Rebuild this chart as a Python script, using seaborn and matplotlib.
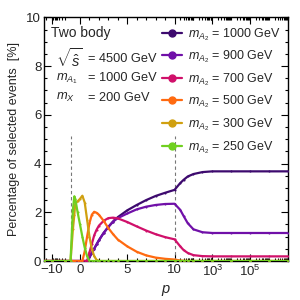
import numpy as np
import pandas as pd
import matplotlib
matplotlib.use("Agg")
import matplotlib.pyplot as plt
from matplotlib.lines import Line2D
from matplotlib.ticker import FixedLocator
import seaborn as sns

# ---------------- data ----------------
p_grid = [-25, -10, -2, -1, -0.75, -0.6, -0.5, -0.25, 0, 0.25, 0.5, 0.75, 1, 1.25,
          1.5, 1.75, 2, 2.5, 3, 3.5, 4, 5, 6, 7, 8, 9, 10, 20, 30, 50, 100, 300,
          1e3, 1e4, 1e5, 1e6, 1e7]

m1000 = [0, 0, 0, 0, 0, 0, 0, 0, 0, 0, 0, 0, 0.15, 0.33, 0.5, 0.68, 0.85, 1.15,
         1.4, 1.62, 1.8, 2.08, 2.3, 2.5, 2.67, 2.8, 2.92, 3.2, 3.33, 3.47, 3.57,
         3.65, 3.68, 3.68, 3.68, 3.68, 3.68]
m900 = [0, 0, 0, 0, 0, 0, 0, 0, 0, 0, 0, 0, 0.15, 0.33, 0.5, 0.68, 0.85, 1.15,
        1.4, 1.62, 1.76, 1.95, 2.12, 2.23, 2.3, 2.34, 2.35, 2.1, 1.85, 1.55, 1.3,
        1.18, 1.15, 1.15, 1.15, 1.15, 1.15]
m700 = [0, 0, 0, 0, 0, 0, 0, 0, 0, 0, 0, 0, 0.35, 0.7, 1.05, 1.28, 1.45, 1.65,
        1.76, 1.78, 1.75, 1.6, 1.42, 1.25, 1.1, 0.98, 0.89, 0.6, 0.45, 0.33, 0.24,
        0.2, 0.19, 0.19, 0.19, 0.19, 0.19]
m500 = [0, 0, 0, 0, 0, 0, 0, 0, 0, 0, 0.4, 1.0, 1.55, 1.9, 2.02, 1.98, 1.9, 1.65,
        1.35, 1.1, 0.88, 0.6, 0.38, 0.23, 0.14, 0.09, 0.06, 0.02, 0.01, 0, 0,
        0, 0, 0, 0, 0, 0]
m300 = [0, 0, 0, 0, 1.3, 1.9, 2.35, 2.45, 2.55, 2.68, 2.4, 1.7, 1.0, 0.5, 0.2,
        0.05, 0, 0, 0, 0, 0, 0, 0, 0, 0, 0, 0, 0, 0, 0, 0, 0, 0, 0, 0, 0, 0]
m250 = [0, 0, 0, 0, 2.1, 2.65, 2.55, 2.0, 1.5, 1.0, 0.55, 0.2, 0, 0, 0, 0, 0,
        0, 0, 0, 0, 0, 0, 0, 0, 0, 0, 0, 0, 0, 0, 0, 0, 0, 0, 0, 0]

masses = ["1000", "900", "700", "500", "300", "250"]
series = [m1000, m900, m700, m500, m300, m250]
colors = ["#3d0a6e", "#7010a8", "#d0106a", "#ff6a10", "#d0a010", "#70d020"]

breaks = [-1, 10]
x_ticks = [-10, 0, 5, 10, 1e3, 1e5]
x_ticklabels = ["\u221210", "0", "5", "10", r"10$^3$", r"10$^5$"]
y_ticks = [0, 2, 4, 6, 8, 10]

info_labels = ["$\\sqrt{\\hat{s}}$", "$m_{A_1}$", "$m_{X}$"]
info_values = ["= 4500 GeV", "= 1000 GeV", "= 200 GeV"]

df = pd.DataFrame({
    "p": np.tile(p_grid, len(masses)),
    "val": np.concatenate(series),
    "mass": np.repeat(masses, len(p_grid)),
})

# ---------------- piecewise scale ----------------
K = 2.0  # linear units per decade


def fwd(p):
    p = np.asarray(p, dtype=float)
    out = p.copy()
    neg = p < -1
    pos = p > 10
    with np.errstate(divide="ignore", invalid="ignore"):
        out[neg] = -1 - K * np.log10(-p[neg])
        out[pos] = 10 + K * np.log10(p[pos] / 10)
    return out


def inv(x):
    x = np.asarray(x, dtype=float)
    out = x.copy()
    neg = x < -1
    pos = x > 10
    out[neg] = -10 ** ((-1 - x[neg]) / K)
    out[pos] = 10 * 10 ** ((x[pos] - 10) / K)
    return out


# ---------------- plot ----------------
sns.set_style("ticks")
plt.rcParams["font.family"] = ["Liberation Sans", "DejaVu Sans"]
plt.rcParams["mathtext.fontset"] = "custom"
plt.rcParams["mathtext.rm"] = "Liberation Sans"
plt.rcParams["mathtext.it"] = "Liberation Sans:italic"
plt.rcParams["mathtext.bf"] = "Liberation Sans:bold"

fig = plt.figure(figsize=(3, 3), dpi=100)
ax = fig.add_axes([0.147, 0.13, 0.813, 0.812])
ax.set_xscale("function", functions=(fwd, inv))

for b in breaks:
    ax.plot([b, b], [0, 5.15], color="#777777", lw=0.8, ls=(0, (3, 2.5)), zorder=1)

sns.lineplot(data=df, x="p", y="val", hue="mass", hue_order=masses,
             palette=colors, lw=1.6, legend=False, ax=ax, zorder=3,
             estimator=None, sort=False,
             marker="o", markersize=1.5, markeredgewidth=0)

ax.set_xlim(-25, 1e7)
ax.set_ylim(0, 10)

ax.xaxis.set_major_locator(FixedLocator(x_ticks))
ax.set_xticklabels(x_ticklabels)
minor_x = ([-20, -9, -8, -7, -6, -5, -4, -3, -2]
           + list(range(1, 10))
           + [m * 10 ** e for e in range(1, 7) for m in range(2, 10)] + [1e2, 1e4, 1e6, 1e7])
ax.xaxis.set_minor_locator(FixedLocator(minor_x))
ax.yaxis.set_major_locator(FixedLocator(y_ticks))
ax.yaxis.set_minor_locator(FixedLocator(np.arange(0, 10.01, 0.5)))

ax.tick_params(which="both", direction="in", top=True, right=True,
               labelsize=9.5, width=0.8, color="black")
ax.tick_params(which="major", length=5, pad=2)
ax.tick_params(which="minor", length=2.5)
for s in ax.spines.values():
    s.set_linewidth(1.0)
    s.set_color("black")

ax.set_xlabel("$p$", fontsize=10.5, labelpad=3)
ax.set_ylabel("Percentage of selected events  [%]", fontsize=9, labelpad=5)

# annotations
ax.text(0.03, 0.935, "Two body", transform=ax.transAxes, fontsize=10,
        va="center", ha="left")
ys = [0.83, 0.75, 0.67]
for lab, val, yy in zip(info_labels, info_values, ys):
    ax.text(0.05, yy, lab, transform=ax.transAxes, fontsize=10.5 if "hat" in lab else 9.3,
            va="center", ha="left")
    ax.text(0.178, yy, val, transform=ax.transAxes, fontsize=9.2,
            va="center", ha="left")

handles = [Line2D([0], [0], color=c, lw=1.6, marker="o", markersize=5)
           for c in colors]
labels = [f"$m_{{A_2}}$ = {m} GeV" for m in masses]
ax.legend(handles, labels, loc="upper right", frameon=False, fontsize=9.0,
          handlelength=1.6, handletextpad=0.45, labelspacing=0.48,
          borderaxespad=0.2, bbox_to_anchor=(1.0, 0.995))

fig.savefig("out.png", dpi=100)
